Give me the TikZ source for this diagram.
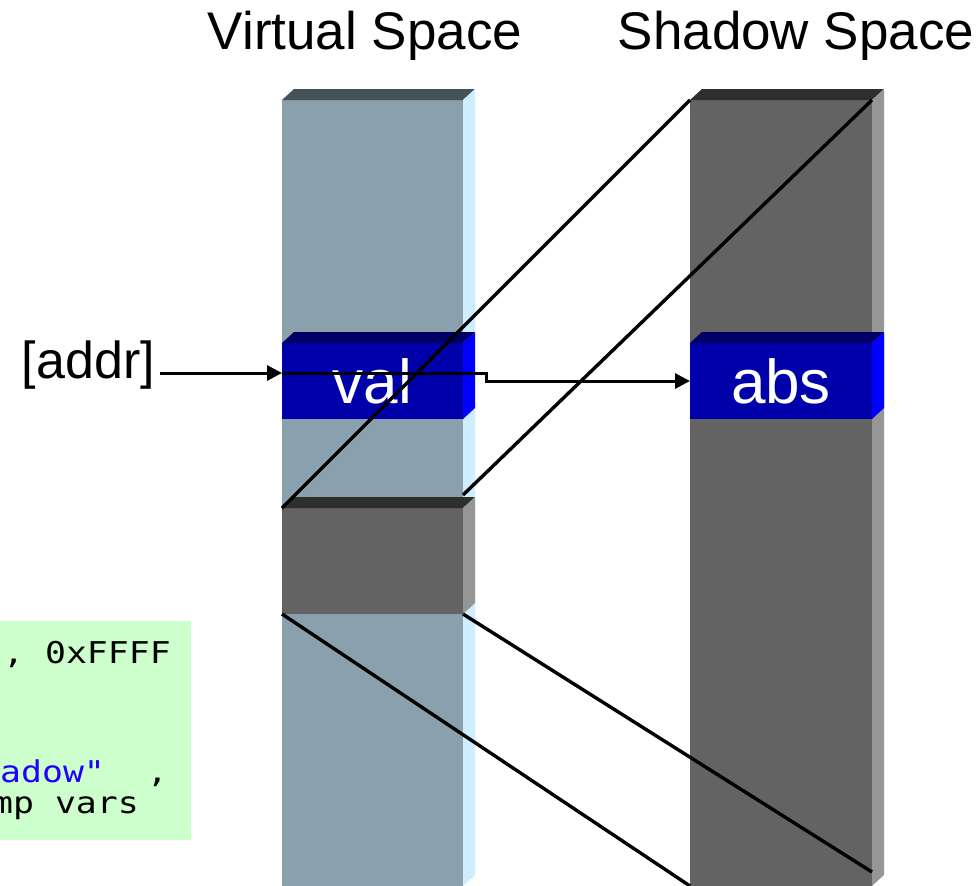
\documentclass[tikz,border=0pt]{standalone}
\usepackage{fontspec}
\setmainfont{Liberation Sans}
\newfontfamily\codefont[FakeStretch=1.16]{DejaVu Sans Mono}
\usetikzlibrary{arrows.meta}
\definecolor{vfront}{RGB}{138,160,172}
\definecolor{vtop}{RGB}{70,82,90}
\definecolor{vside}{RGB}{206,238,255}
\definecolor{gfront}{RGB}{99,99,99}
\definecolor{gtop}{RGB}{46,46,46}
\definecolor{gside}{RGB}{150,150,150}
\definecolor{bfront}{RGB}{0,0,170}
\definecolor{btop}{RGB}{0,0,100}
\definecolor{bside}{RGB}{0,0,255}
\definecolor{codegreen}{RGB}{204,255,204}
\definecolor{codeblue}{RGB}{34,0,255}
\newcommand\boxfaces[3]{%
  \fill[#2] (#1.north west) -- ++(12,-11) -- ([shift={(12,-11)}]#1.north east) -- (#1.north east) -- cycle;
  \fill[#3] (#1.north east) -- ([shift={(12,-11)}]#1.north east) -- ([shift={(12,-11)}]#1.south east) -- (#1.south east) -- cycle;
}
\tikzset{
  face/.style={inner sep=0pt, outer sep=0pt, anchor=north west, draw=none},
  bigtext/.style={font=\fontsize{62}{70}\selectfont, text=white},
  conn/.style={line width=3.4pt, black},
  arr/.style={line width=3pt, black, -{Triangle[length=15pt,width=15pt]}},
  codetext/.style={font=\codefont\fontsize{30}{34}\selectfont, inner sep=0pt, anchor=base west},
  title/.style={font=\fontsize{53}{60}\selectfont, inner sep=0pt, anchor=base},
}
\begin{document}
\begin{tikzpicture}[x=1pt,y=-1pt]
\useasboundingbox (0,0) rectangle (978,886);
\clip (0,0) rectangle (978,886);
\fill[white] (0,0) rectangle (978,886);

% virtual column
\node[face, fill=vfront, minimum width=181pt, minimum height=786pt] (vcol) at (282,100) {};
\boxfaces{vcol}{vtop}{vside}
% val box
\node[face, fill=bfront, minimum width=181pt, minimum height=76pt, bigtext] (val) at (282,343) {val};
\boxfaces{val}{btop}{bside}
% grey box in virtual column
\node[face, fill=gfront, minimum width=181pt, minimum height=106pt] (gbox) at (282,508) {};
\boxfaces{gbox}{gtop}{gside}

% shadow column
\node[face, fill=gfront, minimum width=182pt, minimum height=786pt] (scol) at (690,100) {};
\boxfaces{scol}{gtop}{gside}
% abs box
\node[face, fill=bfront, minimum width=182pt, minimum height=76pt, bigtext] (abs) at (690,343) {abs};
\boxfaces{abs}{btop}{bside}

% code box
\node[face, fill=codegreen, minimum width=201pt, minimum height=219pt] (code) at (-10,621) {};
\node[codetext] (c1) at (3,663) {, 0xFFFF};
\node[codetext] (c4) at (0,782) {\textcolor{codeblue}{adow"}~~,};
\node[codetext] (c5) at (-8,813) {mp vars};

% titles
\node[title] (vt) at (365,49) {Virtual Space};
\node[title] (st) at (796,49) {Shadow Space};

% mapping lines
\draw[conn] (gbox.north west) -- (scol.north west);
\draw[conn] ([yshift=13pt]gbox.north east) -- (scol.north east);
\draw[conn] (gbox.south west) -- (scol.south west);
\draw[conn] (gbox.south east) -- ([yshift=14pt]scol.south east);

% addr arrow
\node[font=\fontsize{52}{60}\selectfont, inner sep=0pt, anchor=base east] (addr) at (155,378) {[addr]};
\draw[arr] ([xshift=5pt,yshift=5pt]addr.base east) -- ([yshift=8pt]val.west);
\draw[arr] ([yshift=8pt]val.west) -- ++(204,0) |- (abs.west);
\end{tikzpicture}
\end{document}
